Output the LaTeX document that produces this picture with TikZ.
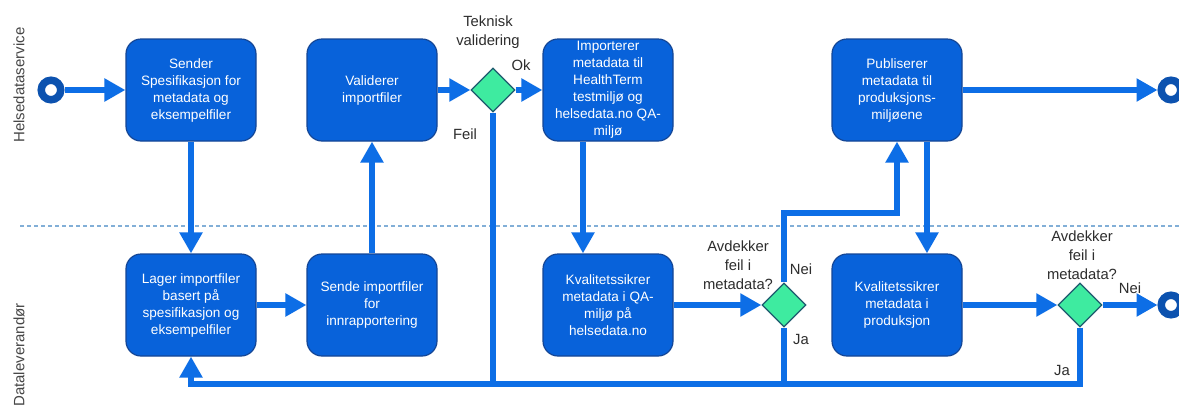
\documentclass[tikz,border=0pt]{standalone}
\usepackage{fontspec}
\setmainfont{Liberation Sans}
\usetikzlibrary{arrows.meta,shapes.geometric}
\definecolor{lineblue}{RGB}{13,110,230}
\definecolor{boxblue}{RGB}{8,98,218}
\definecolor{boxborder}{RGB}{20,70,150}
\definecolor{diafill}{RGB}{62,235,160}
\definecolor{diaborder}{RGB}{30,90,110}
\definecolor{ringblue}{RGB}{12,82,175}
\definecolor{lanedash}{RGB}{130,175,215}
\definecolor{labelgrey}{RGB}{45,45,45}
\definecolor{lanegrey}{RGB}{70,70,70}
\begin{document}
\begin{tikzpicture}[x=1pt,y=-1pt,
  box/.style={draw=boxborder, line width=1.2pt, fill=boxblue, rounded corners=15pt,
    minimum width=130pt, minimum height=102pt, inner sep=2pt, text=white, align=center,
    font=\fontsize{13.6}{17}\selectfont},
  dec/.style={diamond, draw=diaborder, line width=1.3pt, fill=diafill,
    minimum width=44pt, minimum height=44pt, inner sep=0pt},
  ring/.style={circle, draw=ringblue, line width=7.5pt, minimum size=19.5pt, inner sep=0pt},
  flow/.style={draw=lineblue, line width=6pt, -{Triangle[length=21pt,width=22pt]}},
  link/.style={draw=lineblue, line width=6pt},
  lbl/.style={text=labelgrey, align=center, font=\fontsize{14.8}{19}\selectfont},
  lane/.style={text=lanegrey, rotate=90, font=\fontsize{15}{18}\selectfont}]
\useasboundingbox (0,0) rectangle (1179,405);
\fill[white] (0,0) rectangle (1179,405);

% swimlane separator and lane names
\coordinate (dl) at (20,226);
\coordinate (dr) at (1179,226);
\draw[lanedash, line width=1.2pt, dash pattern=on 4pt off 3pt] (dl) -- (dr);
\node[lane] (lane1) at (19,85) {Helsedataservice};
\node[lane] (lane2) at (19,355) {Dataleverandør};

% events
\node[ring] (start) at (51,90) {};
\node[ring] (end1) at (1171,90) {};
\node[ring] (end2) at (1171,305) {};

% tasks
\node[box] (A) at (191,90) {Sender\\Spesifikasjon for\\metadata og\\eksempelfiler};
\node[box] (B) at (372,90) {Validerer\\importfiler};
\node[box] (C) at (608,90) {Importerer\\metadata til\\HealthTerm\\testmiljø og\\helsedata.no QA-\\miljø};
\node[box] (D) at (897,90) {Publiserer\\metadata til\\produksjons-\\miljøene};
\node[box] (E) at (191,305) {Lager importfiler\\basert på\\spesifikasjon og\\eksempelfiler};
\node[box] (F) at (372,305) {Sende importfiler\\for\\innrapportering};
\node[box] (G) at (608,305) {Kvalitetssikrer\\metadata i QA-\\miljø på\\helsedata.no};
\node[box] (H) at (897,305) {Kvalitetssikrer\\metadata i\\produksjon};

% gateways
\node[dec] (d1) at (493,90) {};
\node[dec] (d2) at (784,305) {};
\node[dec] (d3) at (1080,305) {};

% labels
\node[lbl] (t1) at (488,32) {Teknisk\\validering};
\node[lbl] (ok) at (521,65) {Ok};
\node[lbl] (feil) at (465,134) {Feil};
\node[lbl] (t2) at (738,265) {Avdekker\\feil i\\metadata?};
\node[lbl] (nei2) at (801,269) {Nei};
\node[lbl] (ja2) at (801,339) {Ja};
\node[lbl] (t3) at (1082,255) {Avdekker\\feil i\\metadata?};
\node[lbl] (nei3) at (1130,288) {Nei};
\node[lbl] (ja3) at (1062,370) {Ja};

% helper coordinates
\coordinate (bot) at (0,384);
\path (D.south) ++(0,71) coordinate (up);

% connectors
\draw[flow] (start) -- (A);
\draw[flow] (A) -- (E);
\draw[flow] (E) -- (F);
\draw[flow] (F) -- (B);
\draw[flow] (B) -- (d1);
\draw[flow] (d1) -- (C);
\draw[flow] ([xshift=-25pt]C.south) -- ([xshift=-25pt]G.north);
\draw[flow] (G) -- (d2);
\draw[flow] (d2.north) |- (up) -- (D.south);
\draw[flow] ([xshift=30pt]D.south) -- ([xshift=30pt]H.north);
\draw[flow] (H) -- (d3);
\draw[flow] (d3) -- (end2);
\draw[flow] (D) -- (end1);
\draw[link] (d1.south) -- (d1.south |- bot);
\draw[link] (d2.south) -- (d2.south |- bot);
\draw[flow] (d3.south) -- (d3.south |- bot) -| (E.south);
\end{tikzpicture}
\end{document}
